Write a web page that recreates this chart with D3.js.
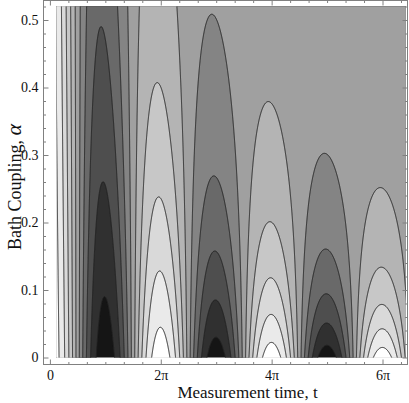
<!DOCTYPE html>
<html><head><meta charset="utf-8">
<script src="https://cdn.jsdelivr.net/npm/d3@7"></script>
<style>body{margin:0;background:#fff} svg{display:block}</style>
</head><body>
<svg id="c" width="409" height="403"></svg>
<script>
// ---- data ----
const contourLevels = [-0.869, -0.670, -0.477, -0.284, -0.094, 0.094, 0.284, 0.477, 0.670, 0.869];
const bandGrays = [0x15, 0x30, 0x4e, 0x69, 0x84, 0xa0, 0xb4, 0xc7, 0xd9, 0xea, 0xff];
const timeRange = [0.38, 20.17];      // plotted measurement-time range
const couplingRange = [0, 0.52];       // plotted bath-coupling range
const decayFactor = 0.5;               // field: exp(-decayFactor*alpha*t)*cos(t)
const xTickValues = [0, 2 * Math.PI, 4 * Math.PI, 6 * Math.PI];
const xTickLabels = ["0", "2π", "4π", "6π"];
const yTickValues = [0, 0.1, 0.2, 0.3, 0.4, 0.5];
const yTickLabels = ["0", "0.1", "0.2", "0.3", "0.4", "0.5"];
const xMinorTicks = d3.range(0, 20.5, Math.PI / 3);
const yMinorTicks = d3.range(0, 0.53, 0.02);
const xTitle = "Measurement time, t";
const yTitle = "Bath Coupling, ";
const yTitleSymbol = "α";

// ---- layout ----
const svg = d3.select("#c");
const x = d3.scaleLinear().domain([0, 6 * Math.PI]).range([49.9, 382.5]);
const y = d3.scaleLinear().domain([0, 0.5]).range([357.5, 20]);
const frame = {l: 43.5, r: 407.5, t: 0.5, b: 364.5};
const FONT = "'Liberation Serif', 'Times New Roman', serif";

// ---- contour field ----
const step = 0.5;
const px0 = x(timeRange[0]) - 4, px1 = x(timeRange[1]) + 4;
const py0 = y(couplingRange[1]) - 4, py1 = y(couplingRange[0]) + 4;
const nx = Math.ceil((px1 - px0) / step) + 1, ny = Math.ceil((py1 - py0) / step) + 1;
const values = new Float64Array(nx * ny);
for (let j = 0; j < ny; j++) {
  const a = y.invert(py0 + j * step);
  for (let i = 0; i < nx; i++) {
    const t = x.invert(px0 + i * step);
    values[j * nx + i] = Math.exp(-decayFactor * a * t) * Math.cos(t);
  }
}
const contours = d3.contours().size([nx, ny]).thresholds(contourLevels)(values);
const proj = d3.geoTransform({
  point(cx, cy) { this.stream.point(px0 + (cx - 0.5) * step, py0 + (cy - 0.5) * step); }
});
const path = d3.geoPath(proj);
const gray = g => `rgb(${g},${g},${g})`;

svg.append("clipPath").attr("id", "plotclip").append("rect")
  .attr("x", x(timeRange[0])).attr("y", y(couplingRange[1]))
  .attr("width", x(timeRange[1]) - x(timeRange[0]))
  .attr("height", y(couplingRange[0]) - y(couplingRange[1]));

const plot = svg.append("g").attr("clip-path", "url(#plotclip)");
plot.append("rect").attr("x", px0).attr("y", py0).attr("width", px1 - px0).attr("height", py1 - py0)
  .attr("fill", gray(bandGrays[0]));
plot.selectAll("path.band").data(contours).join("path").attr("class", "band")
  .attr("d", path).attr("fill", (d, k) => gray(bandGrays[k + 1])).attr("stroke", "none");
plot.selectAll("path.line").data(contours).join("path").attr("class", "line")
  .attr("d", path).attr("fill", "none").attr("stroke", "#222").attr("stroke-width", 0.95);

// ---- frame and ticks ----
const frameColor = "#808080";
svg.append("rect").attr("x", frame.l).attr("y", frame.t)
  .attr("width", frame.r - frame.l).attr("height", frame.b - frame.t)
  .attr("fill", "none").attr("stroke", frameColor).attr("stroke-width", 1);

function styleAxis(g) {
  g.select(".domain").remove();
  g.selectAll(".tick line").attr("stroke", frameColor);
  g.selectAll("text").attr("font-family", FONT).attr("font-size", 14).attr("fill", "#111");
}
const minorX = xMinorTicks.filter(v => xTickValues.every(m => Math.abs(m - v) > 1e-6) && x(v) < frame.r - 1);
const minorY = yMinorTicks.filter(v => yTickValues.every(m => Math.abs(m - v) > 1e-6));

svg.append("g").attr("transform", `translate(0,${frame.b})`)
  .call(d3.axisBottom(x).tickValues(xTickValues).tickFormat((d, i) => xTickLabels[i])
    .tickSizeInner(-5).tickSizeOuter(0).tickPadding(6)).call(styleAxis);
svg.append("g").attr("transform", `translate(0,${frame.b})`)
  .call(d3.axisBottom(x).tickValues(minorX).tickFormat("").tickSizeInner(-2.5).tickSizeOuter(0)).call(styleAxis);
svg.append("g").attr("transform", `translate(0,${frame.t})`)
  .call(d3.axisTop(x).tickValues(xTickValues).tickFormat("").tickSizeInner(-5).tickSizeOuter(0)).call(styleAxis);
svg.append("g").attr("transform", `translate(0,${frame.t})`)
  .call(d3.axisTop(x).tickValues(minorX).tickFormat("").tickSizeInner(-2.5).tickSizeOuter(0)).call(styleAxis);

svg.append("g").attr("transform", `translate(${frame.l},0)`)
  .call(d3.axisLeft(y).tickValues(yTickValues).tickFormat((d, i) => yTickLabels[i])
    .tickSizeInner(-5).tickSizeOuter(0).tickPadding(5)).call(styleAxis);
svg.append("g").attr("transform", `translate(${frame.l},0)`)
  .call(d3.axisLeft(y).tickValues(minorY).tickFormat("").tickSizeInner(-2.5).tickSizeOuter(0)).call(styleAxis);
svg.append("g").attr("transform", `translate(${frame.r},0)`)
  .call(d3.axisRight(y).tickValues(yTickValues).tickFormat("").tickSizeInner(-5).tickSizeOuter(0)).call(styleAxis);
svg.append("g").attr("transform", `translate(${frame.r},0)`)
  .call(d3.axisRight(y).tickValues(minorY).tickFormat("").tickSizeInner(-2.5).tickSizeOuter(0)).call(styleAxis);

// ---- titles ----
svg.append("text").attr("x", 247.5).attr("y", 398).attr("text-anchor", "middle")
  .attr("font-family", FONT).attr("font-size", 17).attr("fill", "#111").text(xTitle);
const yt = svg.append("text").attr("transform", "translate(21,187) rotate(-90)")
  .attr("text-anchor", "middle").attr("font-family", FONT).attr("font-size", 18).attr("fill", "#111");
yt.append("tspan").text(yTitle);
yt.append("tspan").attr("font-size", 22).attr("font-style", "italic").text(yTitleSymbol);
</script>
</body></html>
